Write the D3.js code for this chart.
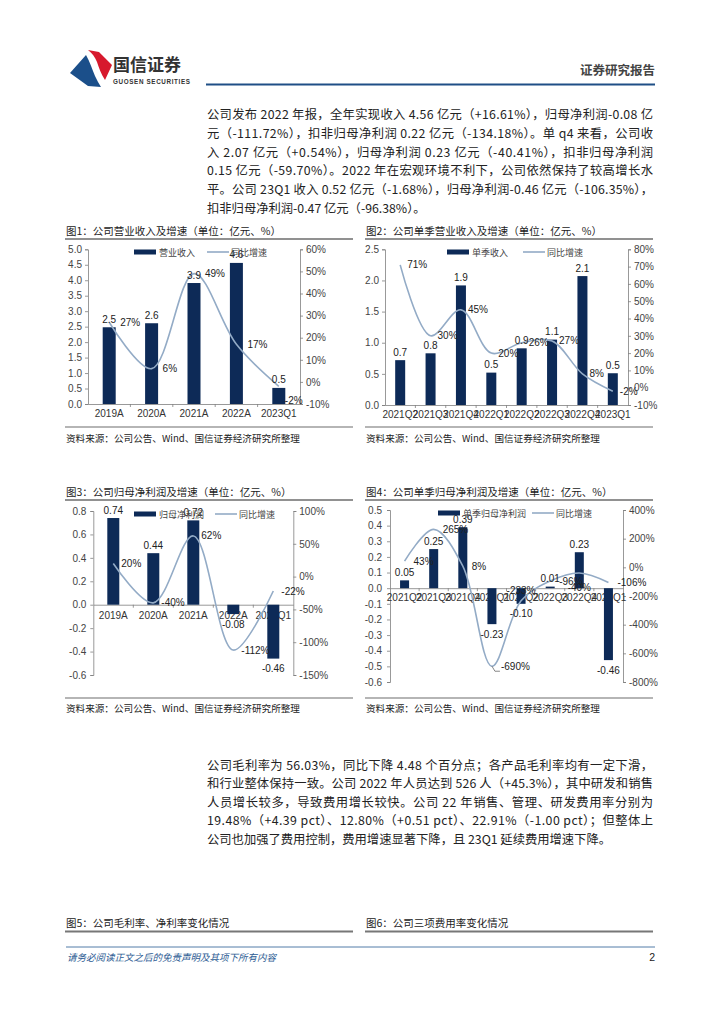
<!DOCTYPE html>
<html><head><meta charset="utf-8">
<script src="https://cdn.jsdelivr.net/npm/d3@7"></script>
<style>body{margin:0;background:#fff}svg{display:block}</style></head>
<body><svg id="page" width="724" height="1024"></svg>
<script>
// ---------- DATA ----------
const annualCategories = ["2019A","2020A","2021A","2022A","2023Q1"];
const quarterCategories = ["2021Q2","2021Q3","2021Q4","2022Q1","2022Q2","2022Q3","2022Q4","2023Q1"];

const fig1Revenue = [2.48, 2.61, 3.91, 4.56, 0.52];
const fig1Growth  = [27, 6, 49, 17, -2];
const fig2Revenue = [0.72, 0.83, 1.92, 0.52, 0.91, 1.05, 2.07, 0.51];
const fig2Growth  = [71, 30, 45, 20, 26, 27, 8, -2];
const fig3Profit  = [0.74, 0.44, 0.72, -0.08, -0.46];
const fig3Growth  = [20, -40, 62, -112, -22];
const fig4Profit  = [0.05, 0.25, 0.39, -0.23, -0.10, 0.01, 0.23, -0.46];
const fig4Growth  = [43, 265, 8, -690, -233, -96, -40, -106];

const fig1LeftTicks  = [0,0.5,1,1.5,2,2.5,3,3.5,4,4.5,5];
const fig1RightTicks = [-10,0,10,20,30,40,50,60];
const fig2LeftTicks  = [0,0.5,1,1.5,2,2.5];
const fig2RightTicks = [-10,0,10,20,30,40,50,60,70,80];
const fig3LeftTicks  = [-0.6,-0.4,-0.2,0,0.2,0.4,0.6,0.8];
const fig3RightTicks = [-150,-100,-50,0,50,100];
const fig4LeftTicks  = [-0.6,-0.5,-0.4,-0.3,-0.2,-0.1,0,0.1,0.2,0.3,0.4,0.5];
const fig4RightTicks = [-800,-600,-400,-200,0,200,400];

const para1 = [
 "公司发布 2022 年报，全年实现收入 4.56 亿元（+16.61%），归母净利润-0.08 亿",
 "元（-111.72%），扣非归母净利润 0.22 亿元（-134.18%）。单 q4 来看，公司收",
 "入 2.07 亿元（+0.54%），归母净利润 0.23 亿元（-40.41%），扣非归母净利润",
 "0.15 亿元（-59.70%）。2022 年在宏观环境不利下，公司依然保持了较高增长水",
 "平。公司 23Q1 收入 0.52 亿元（-1.68%），归母净利润-0.46 亿元（-106.35%），",
 "扣非归母净利润-0.47 亿元（-96.38%）。"
];
const para2 = [
 "公司毛利率为 56.03%，同比下降 4.48 个百分点；各产品毛利率均有一定下滑，",
 "和行业整体保持一致。公司 2022 年人员达到 526 人（+45.3%），其中研发和销售",
 "人员增长较多，导致费用增长较快。公司 22 年销售、管理、研发费用率分别为",
 "19.48%（+4.39 pct）、12.80%（+0.51 pct）、22.91%（-1.00 pct）；但整体上",
 "公司也加强了费用控制，费用增速显著下降，且 23Q1 延续费用增速下降。"
];

// ---------- STYLE ----------
const NAVY = "#0d2a57", LINEC = "#93abc6", AXIS = "#7f7f7f";
const CJK = "'Noto Sans CJK SC','Noto Sans',sans-serif";
const NUM = "'Liberation Sans',Arial,sans-serif";

const svg = d3.select("#page");
svg.append("rect").attr("width",724).attr("height",1024).attr("fill","#fff");

// ---------- HEADER ----------
const hdr = svg.append("g");
hdr.append("path").attr("fill","#1b4f8a")
  .attr("d","M70,73 L86,55 C90,62 92,69 95,76 C97,80 99,84 101,87 L88,86 Z");
hdr.append("path").attr("fill","#d7192d")
  .attr("d","M88,50 L99,52 L112,65 L105,80 C101,74 99,68 97,62 C95,57 92,53 88,50 Z");
hdr.append("text").attr("x",113).attr("y",71).attr("font-family",CJK).attr("font-weight","bold")
  .attr("font-size",17).attr("fill","#333").text("国信证券");
hdr.append("text").attr("x",113).attr("y",84).attr("font-family",NUM).attr("font-weight","bold")
  .attr("font-size",6.3).attr("fill","#333").attr("textLength",77).text("GUOSEN SECURITIES");
hdr.append("text").attr("x",655).attr("y",75).attr("text-anchor","end").attr("font-family",CJK)
  .attr("font-weight","bold").attr("font-size",12.5).attr("fill","#444").text("证券研究报告");
hdr.append("line").attr("x1",206).attr("x2",655).attr("y1",84.5).attr("y2",84.5)
  .attr("stroke","#1f4f86").attr("stroke-width",2);

// ---------- PARAGRAPHS ----------
function paragraph(lines, y0, dy){
  lines.forEach((t,i)=>{
    const el = svg.append("text").attr("x",207).attr("y",y0+i*dy)
      .attr("font-family",CJK).attr("font-size",12.3).attr("fill","#222")
      .attr("dominant-baseline","central").text(t);
    if(i<lines.length-1) el.attr("textLength",446).attr("lengthAdjust","spacing");
  });
}
paragraph(para1, 114, 18.8);
paragraph(para2, 765, 18.4);

// ---------- CHART HELPER ----------
function chart(c){
  const g = svg.append("g");
  g.append("text").attr("x",c.tx).attr("y",c.ty).attr("font-family",CJK).attr("font-size",10.5)
    .attr("fill","#222").attr("dominant-baseline","central").text(c.title);
  g.append("line").attr("x1",c.tx-1).attr("x2",c.tx+287).attr("y1",c.ty+9).attr("y2",c.ty+9)
    .attr("stroke","#6d6d6d").attr("stroke-width",1.6);
  if(c.bottomLine) g.append("line").attr("x1",c.tx-1).attr("x2",c.tx+287).attr("y1",c.bottomLine).attr("y2",c.bottomLine)
    .attr("stroke","#6d6d6d").attr("stroke-width",1.2);
  g.append("text").attr("x",c.tx).attr("y",c.srcY).attr("font-family",CJK).attr("font-size",9.6)
    .attr("fill","#222").attr("dominant-baseline","central").text("资料来源：公司公告、Wind、国信证券经济研究所整理");

  const x = d3.scaleBand().domain(c.cats).range([c.x0,c.x1]);
  const yl = d3.scaleLinear().domain([c.lTicks[0], c.lTicks[c.lTicks.length-1]]).range([c.yb,c.yt]);
  const yr = d3.scaleLinear().domain([c.rTicks[0], c.rTicks[c.rTicks.length-1]]).range([c.yb,c.yt]);
  const zeroY = yl(0);
  const cx = i => x(c.cats[i])+x.bandwidth()/2;

  const la = d3.axisLeft(yl).tickValues(c.lTicks).tickSize(3).tickPadding(c.lPad).tickFormat(c.lFmt);
  const lg = g.append("g").attr("transform",`translate(${c.x0},0)`).call(la);
  const ra = d3.axisRight(yr).tickValues(c.rTicks).tickSize(3).tickPadding(3).tickFormat(d=>d+"%");
  const rg = g.append("g").attr("transform",`translate(${c.x1},0)`).call(ra);
  [lg,rg].forEach(a=>{
    a.selectAll("path.domain,line").attr("stroke",AXIS).attr("stroke-width",0.8);
    a.selectAll("text").attr("font-family",NUM).attr("font-size",10).attr("fill","#444");
  });
  g.append("g").selectAll("text").data(c.cats).join("text")
    .attr("x",d=>x(d)+x.bandwidth()/2).attr("y",c.catY).attr("text-anchor","middle")
    .attr("dominant-baseline","central").attr("font-family",NUM).attr("font-size",10).attr("fill","#333")
    .text(d=>d);
  const xa = d3.axisBottom(x).tickSize(0).tickFormat("");
  const xg = g.append("g").attr("transform",`translate(0,${zeroY})`).call(xa);
  xg.selectAll("path.domain").attr("stroke",AXIS).attr("stroke-width",0.8);
  g.append("g").selectAll("line").data(c.cats.slice(1)).join("line")
    .attr("x1",d=>x(d)).attr("x2",d=>x(d)).attr("y1",zeroY).attr("y2",zeroY+3)
    .attr("stroke",AXIS).attr("stroke-width",0.8);

  g.append("g").selectAll("rect").data(c.bars).join("rect")
    .attr("x",(d,i)=>cx(i)-c.barW/2).attr("width",c.barW)
    .attr("y",d=>Math.min(yl(d),zeroY)).attr("height",d=>Math.abs(yl(d)-zeroY)).attr("fill",NAVY);
  const line = d3.line().x((d,i)=>cx(i)).y(d=>yr(d)).curve(d3.curveCatmullRom.alpha(0.5));
  g.append("path").attr("d",line(c.growth)).attr("fill","none").attr("stroke",LINEC).attr("stroke-width",1.6);

  g.append("g").selectAll("text").data(c.bars).join("text")
    .attr("x",(d,i)=>cx(i))
    .attr("y",d=> d>=0 ? yl(d)-8 : yl(d)+10).attr("text-anchor","middle").attr("dominant-baseline","central")
    .attr("font-family",NUM).attr("font-size",10).attr("fill","#222")
    .text(d=>c.bFmt(d));
  // growth labels: default to the right of the point; some placed above/below as in the original
  const pos = c.gPos || {};
  g.append("g").selectAll("text").data(c.growth).join("text")
    .attr("x",(d,i)=> pos[i]==="above"||pos[i]==="below" ? cx(i) : (pos[i]==="belowright" ? cx(i)+6 : cx(i)+c.gOff))
    .attr("y",(d,i)=> pos[i]==="above" ? yr(d)-10 : (pos[i]==="below" ? yr(d)+14 : (pos[i]==="belowright" ? yr(d)+14 : yr(d))))
    .attr("text-anchor",(d,i)=> pos[i]==="above"||pos[i]==="below" ? "middle" : "start")
    .attr("dominant-baseline","central").attr("font-family",NUM).attr("font-size",10).attr("fill","#222")
    .text(d=>d+"%");

  const L = c.legend;
  g.append("rect").attr("x",L.x).attr("y",L.y-2.5).attr("width",22).attr("height",5).attr("fill",NAVY);
  g.append("text").attr("x",L.x+25).attr("y",L.y).attr("dominant-baseline","central").attr("font-family",CJK)
    .attr("font-size",9).attr("fill","#444").text(L.bar);
  g.append("line").attr("x1",L.lx).attr("x2",L.lx+22).attr("y1",L.y).attr("y2",L.y).attr("stroke",LINEC).attr("stroke-width",1.6);
  g.append("text").attr("x",L.lx+24).attr("y",L.y).attr("dominant-baseline","central").attr("font-family",CJK)
    .attr("font-size",9).attr("fill","#444").text("同比增速");
  return {g,x,yl,yr};
}

const f1 = d=>d.toFixed(1);
const f2 = d=>(d<0?"-":"")+Math.abs(d).toFixed(2);

chart({title:"图1：公司营业收入及增速（单位：亿元、%）", tx:66, ty:230, srcY:438, bottomLine:427,
  cats:annualCategories, bars:fig1Revenue, growth:fig1Growth, x0:88, x1:300, yt:249.3, yb:404,
  lTicks:fig1LeftTicks, rTicks:fig1RightTicks, lFmt:d=>d.toFixed(1), lPad:3, catY:413, barW:13, bFmt:f1, gOff:11,
  gPos:{4:"belowright"},
  legend:{x:134, y:252, bar:"营业收入", lx:207}});

chart({title:"图2：公司单季营业收入及增速（单位：亿元、%）", tx:366, ty:230, srcY:438, bottomLine:427,
  cats:quarterCategories, bars:fig2Revenue, growth:fig2Growth, x0:385, x1:628, yt:249.3, yb:405,
  lTicks:fig2LeftTicks, rTicks:fig2RightTicks, lFmt:d=>d.toFixed(1), lPad:3, catY:414, barW:10, bFmt:f1, gOff:7,
  legend:{x:447, y:252, bar:"单季收入", lx:523}});

chart({title:"图3：公司归母净利润及增速（单位：亿元、%）", tx:66, ty:491, srcY:708, bottomLine:698,
  cats:annualCategories, bars:fig3Profit, growth:fig3Growth, x0:93.3, x1:293.3, yt:511, yb:675,
  lTicks:fig3LeftTicks, rTicks:fig3RightTicks, lFmt:d=>(d<0?"-":"")+Math.abs(d).toFixed(1), lPad:4, catY:615, barW:12, bFmt:f2, gOff:8,
  legend:{x:134, y:514, bar:"归母净利润", lx:215}});

const c4 = chart({title:"图4：公司单季归母净利润及增速（单位：亿元、%）", tx:366, ty:491, srcY:708, bottomLine:698,
  cats:quarterCategories, bars:fig4Profit, growth:fig4Growth, x0:390, x1:623, yt:510, yb:682,
  lTicks:fig4LeftTicks, rTicks:fig4RightTicks, lFmt:d=>(d<0?"-":"")+Math.abs(d).toFixed(1), lPad:5, catY:597, barW:9, bFmt:f2, gOff:9,
  gPos:{4:"above", 6:"below"},
  legend:{x:438, y:513, bar:"单季归母净利润", lx:532}});
{
  const px = c4.x("2022Q1")+c4.x.bandwidth()/2, py = c4.yr(fig4Growth[3]);
  svg.append("path").attr("d",`M${px},${py} L${px+3},${py+5} L${px+8},${py+5}`).attr("fill","none")
    .attr("stroke","#555").attr("stroke-width",0.7);
}

// ---------- FIG 5 / 6 HEADERS ----------
[["图5：公司毛利率、净利率变化情况",66],["图6：公司三项费用率变化情况",366]].forEach(([t,x])=>{
  svg.append("text").attr("x",x).attr("y",922).attr("font-family",CJK).attr("font-size",10.5).attr("fill","#222")
    .attr("dominant-baseline","central").text(t);
  svg.append("line").attr("x1",x-1).attr("x2",x+287).attr("y1",931.5).attr("y2",931.5).attr("stroke","#777").attr("stroke-width",1.8);
});

// ---------- FOOTER ----------
svg.append("line").attr("x1",66).attr("x2",655).attr("y1",947).attr("y2",947).attr("stroke","#3f6e9e").attr("stroke-width",0.9);
svg.append("text").attr("x",67).attr("y",957).attr("font-family",CJK).attr("font-size",9.5).attr("font-style","italic")
  .attr("fill","#2c5b93").attr("dominant-baseline","central").text("请务必阅读正文之后的免责声明及其项下所有内容");
svg.append("text").attr("x",655).attr("y",957).attr("text-anchor","end").attr("font-family",NUM).attr("font-size",10.5)
  .attr("fill","#222").attr("dominant-baseline","central").text("2");
</script></body></html>
